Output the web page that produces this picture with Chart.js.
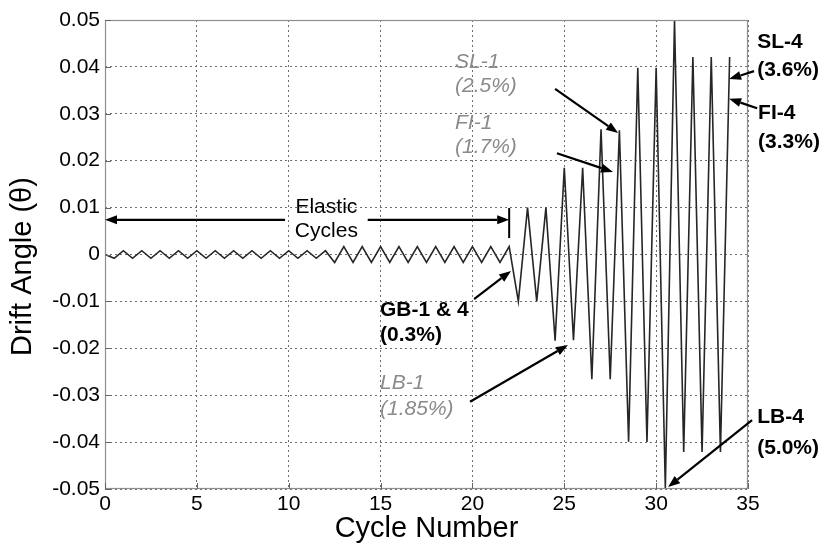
<!DOCTYPE html>
<html><head><meta charset="utf-8">
<script src="https://cdn.jsdelivr.net/npm/chart.js@4.4.1/dist/chart.umd.min.js"></script>
<style>html,body{margin:0;padding:0;background:#fff;}#wrap{width:835px;height:544px;position:relative;}</style>
</head><body><div id="wrap"><canvas id="c" width="835" height="544"></canvas></div>
<script>
// ---- data ----
const cycleX = [0,
  0.5,1, 1.5,2, 2.5,3, 3.5,4, 4.5,5, 5.5,6, 6.5,7, 7.5,8, 8.5,9, 9.5,10, 10.5,11, 11.5,12,
  12.5,13, 13.5,14, 14.5,15, 15.5,16, 16.5,17, 17.5,18, 18.5,19, 19.5,20, 20.5,21, 21.5,22,
  22.5,23, 23.5,24, 24.5,25, 25.5,26, 26.5,27, 27.5,28, 28.5,29, 29.5,30, 30.5,31,
  31.5,32, 32.5,33, 33.5,34];
const drift = [0,
  -0.0008,0.0008, -0.0008,0.0008, -0.0008,0.0008, -0.0008,0.0008, -0.0008,0.0008, -0.0008,0.0008,
  -0.0008,0.0008, -0.0008,0.0008, -0.0008,0.0008, -0.0008,0.0008, -0.0008,0.0008, -0.0008,0.0008,
  -0.0017,0.0017, -0.0017,0.0017, -0.0017,0.0017, -0.0017,0.0017, -0.0017,0.0017, -0.0017,0.0017,
  -0.0017,0.0017, -0.0017,0.0017, -0.0017,0.0017, -0.0017,0.0017,
  -0.0100,0.0100, -0.0100,0.0100, -0.0184,0.0185, -0.0183,0.0185, -0.0266,0.0267, -0.0266,0.0265,
  -0.0399,0.0398, -0.0400,0.0398, -0.0499,0.0500,
  -0.0421,0.0421, -0.0421,0.0421, -0.0421,0.0421];
const xTicks = [0,5,10,15,20,25,30,35];
const yTicks = [-0.05,-0.04,-0.03,-0.02,-0.01,0,0.01,0.02,0.03,0.04,0.05];

// ---- annotations (in data coordinates) ----
const noteTexts = [
  {lines:['Elastic','Cycles'], x:12.05, y:[0.0101,0.0049], align:'center', kind:'plain'},
  {lines:['GB-1 & 4','(0.3%)'], x:14.97, y:[-0.0119,-0.0172], align:'left', kind:'bold'},
  {lines:['LB-1','(1.85%)'], x:14.97, y:[-0.0274,-0.0330], align:'left', kind:'italic'},
  {lines:['SL-1','(2.5%)'], x:19.05, y:[0.0410,0.0358], align:'left', kind:'italic'},
  {lines:['FI-1','(1.7%)'], x:19.05, y:[0.0281,0.0229], align:'left', kind:'italic'},
  {lines:['SL-4','(3.6%)'], x:35.5, y:[0.0453,0.0393], align:'left', kind:'bold'},
  {lines:['FI-4','(3.3%)'], x:35.55, y:[0.0302,0.0240], align:'left', kind:'bold'},
  {lines:['LB-4','(5.0%)'], x:35.5, y:[-0.0346,-0.0413], align:'left', kind:'bold'}
];
const arrows = [
  {from:[20.09,-0.0095], to:[22.1,-0.0035]},
  {from:[19.87,-0.0314], to:[25.2,-0.0193]},
  {from:[24.5,0.0353], to:[27.93,0.0259]},
  {from:[24.6,0.0216], to:[27.65,0.0176]},
  {from:[35.33,0.0391], to:[33.97,0.0374]},
  {from:[35.5,0.0312], to:[33.97,0.0332]},
  {from:[35.22,-0.0353], to:[30.65,-0.0496]},
  {from:[9.8,0.0074], to:[0,0.0074]},
  {from:[14.3,0.0074], to:[22,0.0074]}
];
const elasticBar = {x:22, y1:0.0099, y2:0.0035};

const FONT = "'Liberation Sans', Arial, sans-serif";

const decor = {
  id:'decor',
  afterDatasetsDraw(chart){
    const {ctx, chartArea:a, scales:{x, y}} = chart;
    ctx.save();
    ctx.strokeStyle = '#8f8f8f'; ctx.lineWidth = 1.2; ctx.setLineDash([]);
    ctx.strokeRect(a.left+0.5, a.top+0.5, a.right-a.left-1, a.bottom-a.top-1);
    ctx.strokeStyle = '#666'; ctx.lineWidth = 1;
    xTicks.forEach(v=>{ const px = Math.round(x.getPixelForValue(v))+0.5;
      ctx.beginPath(); ctx.moveTo(px,a.bottom); ctx.lineTo(px,a.bottom-6); ctx.stroke(); });
    yTicks.forEach(v=>{ const py = Math.round(y.getPixelForValue(v))+0.5;
      ctx.beginPath(); ctx.moveTo(a.left,py); ctx.lineTo(a.left+6,py); ctx.stroke(); });
    ctx.restore();
  },
  afterDraw(chart){
    const {ctx, scales:{x, y}} = chart;
    ctx.save();
    ctx.strokeStyle = '#000'; ctx.fillStyle = '#000'; ctx.lineWidth = 2.2;
    arrows.forEach(ar=>{
      const x1 = x.getPixelForValue(ar.from[0]), y1 = y.getPixelForValue(ar.from[1]);
      const x2 = x.getPixelForValue(ar.to[0]), y2 = y.getPixelForValue(ar.to[1]);
      const ang = Math.atan2(y2-y1, x2-x1);
      const L = 12, W = 4.5;
      const bx = x2 - L*Math.cos(ang), by = y2 - L*Math.sin(ang);
      ctx.beginPath(); ctx.moveTo(x1,y1); ctx.lineTo(bx,by); ctx.stroke();
      ctx.beginPath(); ctx.moveTo(x2,y2);
      ctx.lineTo(bx + W*Math.sin(ang), by - W*Math.cos(ang));
      ctx.lineTo(bx - W*Math.sin(ang), by + W*Math.cos(ang));
      ctx.closePath(); ctx.fill();
    });
    const bxp = x.getPixelForValue(elasticBar.x);
    ctx.lineWidth = 2;
    ctx.beginPath(); ctx.moveTo(bxp, y.getPixelForValue(elasticBar.y1)); ctx.lineTo(bxp, y.getPixelForValue(elasticBar.y2)); ctx.stroke();
    ctx.textBaseline = 'middle';
    noteTexts.forEach(n=>{
      if (n.kind==='bold'){ ctx.font = 'bold 21px '+FONT; ctx.fillStyle = '#000'; }
      else if (n.kind==='italic'){ ctx.font = 'italic 21px '+FONT; ctx.fillStyle = '#8a8a8a'; }
      else { ctx.font = '21px '+FONT; ctx.fillStyle = '#000'; }
      ctx.textAlign = n.align;
      const px = x.getPixelForValue(n.x);
      n.lines.forEach((t,i)=>{ ctx.fillText(t, px, y.getPixelForValue(n.y[i])); });
    });
    ctx.restore();
  }
};

new Chart(document.getElementById('c'), {
  type:'line',
  data:{ datasets:[{
    data: cycleX.map((v,i)=>({x:v, y:drift[i]})),
    borderColor:'#262626', borderWidth:1.6, pointRadius:0, tension:0, fill:false
  }]},
  options:{
    responsive:false, animation:false, devicePixelRatio:1,
    layout:{padding:{left:0, right:87, top:20, bottom:0}},
    plugins:{legend:{display:false}, tooltip:{enabled:false}},
    scales:{
      x:{
        type:'linear', min:0, max:35,
        afterBuildTicks(s){ s.ticks = xTicks.map(v=>({value:v})); },
        afterFit(s){ s.height = 55; },
        ticks:{ font:{family:FONT, size:21}, color:'#000', padding:3, maxRotation:0, autoSkip:false,
                callback:v=>String(v) },
        grid:{ color:'#6f6f6f', lineWidth:1, drawTicks:false },
        border:{ display:false, dash:[2,3] },
        title:{ display:true, text:'Cycle Number', font:{family:FONT, size:29, lineHeight:1}, color:'#000',
                padding:{top:0, bottom:1} }
      },
      y:{
        type:'linear', min:-0.05, max:0.05,
        afterBuildTicks(s){ s.ticks = yTicks.map(v=>({value:v})); },
        afterFit(s){ s.width = 105; },
        ticks:{ font:{family:FONT, size:21}, color:'#000', padding:5, autoSkip:false,
                callback:v=> Math.abs(v)<1e-9 ? '0' : v.toFixed(2) },
        grid:{ color:'#6f6f6f', lineWidth:1, drawTicks:false },
        border:{ display:false, dash:[2,3] },
        title:{ display:true, text:'Drift Angle (θ)   ', font:{family:FONT, size:29, lineHeight:1}, color:'#000',
                padding:{top:8, bottom:0} }
      }
    }
  },
  plugins:[decor]
});
</script>
</body></html>
